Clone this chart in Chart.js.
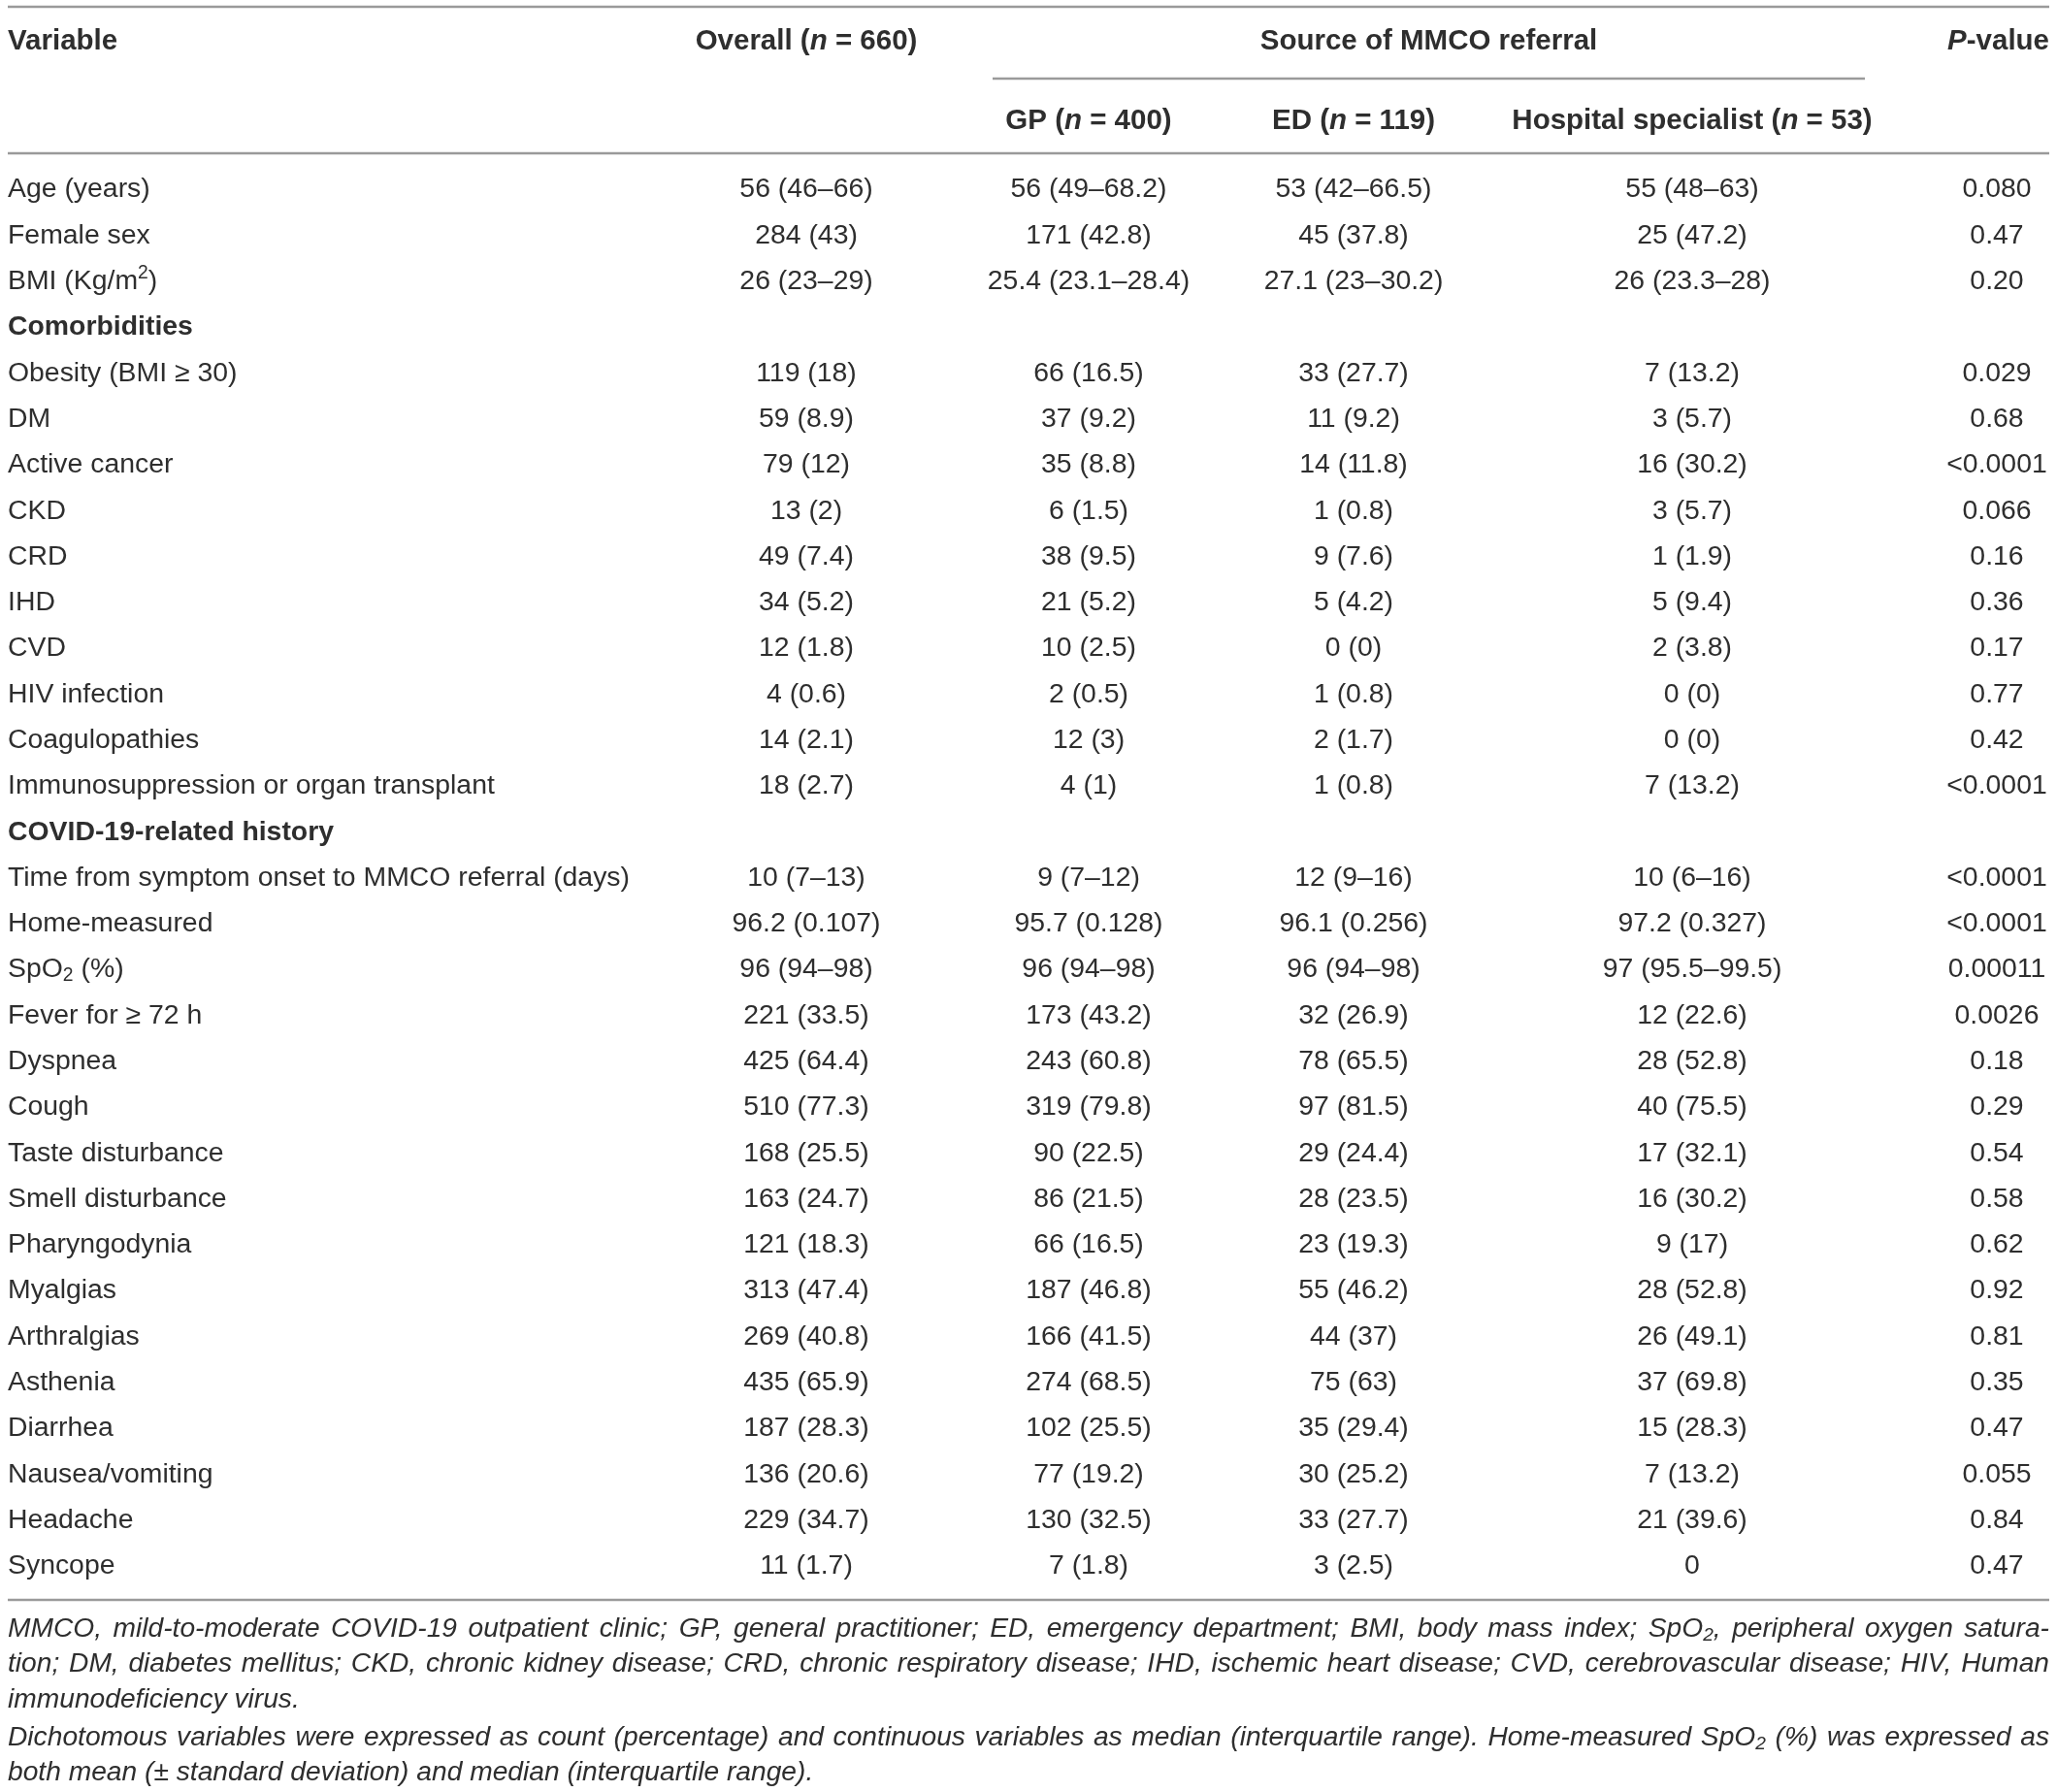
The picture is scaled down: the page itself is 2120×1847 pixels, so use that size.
<!DOCTYPE html>
<html>
<head>
<meta charset="utf-8">
<script src="https://cdn.jsdelivr.net/npm/chart.js@4.4.1/dist/chart.umd.min.js"></script>
<style>
  html, body { margin: 0; padding: 0; background: #fff; }
  #wrap { width: 2120px; height: 1847px; }
</style>
</head>
<body>
<div id="wrap"><canvas id="table" width="2120" height="1847"></canvas></div>
<script>
// === Data (markup: *x* italic, _{x} subscript, ^{x} superscript) ===
const columnHeads = ["Variable", "Overall (*n* = 660)", "GP (*n* = 400)", "ED (*n* = 119)", "Hospital specialist (*n* = 53)", "*P*-value"];
const groupHead = "Source of MMCO referral";
const sectionHeaders = ["Comorbidities", "COVID-19-related history"];

const rowLabels = [
  "Age (years)", "Female sex", "BMI (Kg/m^{2})",
  "Comorbidities",
  "Obesity (BMI ≥ 30)", "DM", "Active cancer", "CKD", "CRD", "IHD", "CVD",
  "HIV infection", "Coagulopathies", "Immunosuppression or organ transplant",
  "COVID-19-related history",
  "Time from symptom onset to MMCO referral (days)", "Home-measured", "SpO_{2} (%)",
  "Fever for ≥ 72 h", "Dyspnea", "Cough", "Taste disturbance", "Smell disturbance",
  "Pharyngodynia", "Myalgias", "Arthralgias", "Asthenia", "Diarrhea",
  "Nausea/vomiting", "Headache", "Syncope"
];

const overall = [
  "56 (46–66)", "284 (43)", "26 (23–29)", "",
  "119 (18)", "59 (8.9)", "79 (12)", "13 (2)", "49 (7.4)", "34 (5.2)", "12 (1.8)",
  "4 (0.6)", "14 (2.1)", "18 (2.7)", "",
  "10 (7–13)", "96.2 (0.107)", "96 (94–98)", "221 (33.5)", "425 (64.4)", "510 (77.3)",
  "168 (25.5)", "163 (24.7)", "121 (18.3)", "313 (47.4)", "269 (40.8)", "435 (65.9)",
  "187 (28.3)", "136 (20.6)", "229 (34.7)", "11 (1.7)"
];
const gp = [
  "56 (49–68.2)", "171 (42.8)", "25.4 (23.1–28.4)", "",
  "66 (16.5)", "37 (9.2)", "35 (8.8)", "6 (1.5)", "38 (9.5)", "21 (5.2)", "10 (2.5)",
  "2 (0.5)", "12 (3)", "4 (1)", "",
  "9 (7–12)", "95.7 (0.128)", "96 (94–98)", "173 (43.2)", "243 (60.8)", "319 (79.8)",
  "90 (22.5)", "86 (21.5)", "66 (16.5)", "187 (46.8)", "166 (41.5)", "274 (68.5)",
  "102 (25.5)", "77 (19.2)", "130 (32.5)", "7 (1.8)"
];
const ed = [
  "53 (42–66.5)", "45 (37.8)", "27.1 (23–30.2)", "",
  "33 (27.7)", "11 (9.2)", "14 (11.8)", "1 (0.8)", "9 (7.6)", "5 (4.2)", "0 (0)",
  "1 (0.8)", "2 (1.7)", "1 (0.8)", "",
  "12 (9–16)", "96.1 (0.256)", "96 (94–98)", "32 (26.9)", "78 (65.5)", "97 (81.5)",
  "29 (24.4)", "28 (23.5)", "23 (19.3)", "55 (46.2)", "44 (37)", "75 (63)",
  "35 (29.4)", "30 (25.2)", "33 (27.7)", "3 (2.5)"
];
const hospital = [
  "55 (48–63)", "25 (47.2)", "26 (23.3–28)", "",
  "7 (13.2)", "3 (5.7)", "16 (30.2)", "3 (5.7)", "1 (1.9)", "5 (9.4)", "2 (3.8)",
  "0 (0)", "0 (0)", "7 (13.2)", "",
  "10 (6–16)", "97.2 (0.327)", "97 (95.5–99.5)", "12 (22.6)", "28 (52.8)", "40 (75.5)",
  "17 (32.1)", "16 (30.2)", "9 (17)", "28 (52.8)", "26 (49.1)", "37 (69.8)",
  "15 (28.3)", "7 (13.2)", "21 (39.6)", "0"
];
const pValues = [
  "0.080", "0.47", "0.20", "",
  "0.029", "0.68", "<0.0001", "0.066", "0.16", "0.36", "0.17",
  "0.77", "0.42", "<0.0001", "",
  "<0.0001", "<0.0001", "0.00011", "0.0026", "0.18", "0.29",
  "0.54", "0.58", "0.62", "0.92", "0.81", "0.35",
  "0.47", "0.055", "0.84", "0.47"
];

const footnotes = [
  { text: "MMCO, mild-to-moderate COVID-19 outpatient clinic; GP, general practitioner; ED, emergency department; BMI, body mass index; SpO_{2}, peripheral oxygen satura-", justify: true },
  { text: "tion; DM, diabetes mellitus; CKD, chronic kidney disease; CRD, chronic respiratory disease; IHD, ischemic heart disease; CVD, cerebrovascular disease; HIV, Human", justify: true },
  { text: "immunodeficiency virus.", justify: false },
  { text: "Dichotomous variables were expressed as count (percentage) and continuous variables as median (interquartile range). Home-measured SpO_{2} (%) was expressed as", justify: true },
  { text: "both mean (± standard deviation) and median (interquartile range).", justify: false }
];

// === Layout (table units on the x scale) ===
const TABLE_LEFT = 8, TABLE_RIGHT = 2112;
const colAnchor = { label: 8, overall: 831, gp: 1122, ed: 1395, hospital: 1744, p: 2058 };
const groupSpan = [1023, 1922];
const FONT = '"Liberation Sans", Arial, Helvetica, sans-serif';
const TEXT = "#2e2e2e";
const RULE = "#9a9a9a";
const BODY = 28.4;
const HEAD = 29.5;
const NOTE = 28.2;

// === Rich text helpers ===
function parseMarkup(str) {
  const segs = [];
  let it = false, buf = "", i = 0;
  const flush = () => { if (buf) segs.push({ t: buf, it, mode: "" }); buf = ""; };
  while (i < str.length) {
    const c = str[i];
    if (c === "*") { flush(); it = !it; i++; continue; }
    if ((c === "_" || c === "^") && str[i + 1] === "{") {
      flush();
      const end = str.indexOf("}", i);
      segs.push({ t: str.slice(i + 2, end), it, mode: c === "_" ? "sub" : "sup" });
      i = end + 1;
      continue;
    }
    buf += c; i++;
  }
  flush();
  return segs;
}

function segFont(seg, size, weight, italic) {
  const s = seg.mode ? size * 0.68 : size;
  return `${(italic !== seg.it) ? "italic " : ""}${weight} ${s}px ${FONT}`;
}

function drawRich(ctx, markup, x, y, opt) {
  const size = opt.size || BODY, weight = opt.weight || "normal", italic = !!opt.italic;
  const segs = parseMarkup(markup);
  let total = 0, spaces = 0;
  segs.forEach(s => {
    ctx.font = segFont(s, size, weight, italic);
    s.w = ctx.measureText(s.t).width;
    total += s.w;
    if (!s.mode) spaces += (s.t.match(/ /g) || []).length;
  });
  let extra = 0;
  if (opt.justify && spaces > 0) extra = (opt.justify - total) / spaces;
  let cx = x;
  if (opt.align === "center") cx = x - total / 2;
  else if (opt.align === "right") cx = x - total;
  ctx.textAlign = "left";
  ctx.textBaseline = "middle";
  segs.forEach(s => {
    ctx.font = segFont(s, size, weight, italic);
    const dy = s.mode === "sub" ? size * 0.22 : s.mode === "sup" ? -size * 0.3 : 0;
    if (extra && !s.mode) {
      const parts = s.t.split(" ");
      const sp = ctx.measureText(" ").width;
      parts.forEach((p, k) => {
        ctx.fillText(p, cx, y + dy);
        cx += ctx.measureText(p).width;
        if (k < parts.length - 1) cx += sp + extra;
      });
    } else {
      ctx.fillText(s.t, cx, y + dy);
      cx += s.w;
    }
  });
}

// === Columns as datasets: one invisible point per cell, text drawn at the point ===
const columns = [
  { key: "label", cells: rowLabels, align: "left" },
  { key: "overall", cells: overall, align: "center" },
  { key: "gp", cells: gp, align: "center" },
  { key: "ed", cells: ed, align: "center" },
  { key: "hospital", cells: hospital, align: "center" },
  { key: "p", cells: pValues, align: "center" }
];

const tablePlugin = {
  id: "tableText",
  afterDatasetsDraw(chart) {
    const ctx = chart.ctx;
    const xs = chart.scales.x;
    const area = chart.chartArea;
    ctx.save();
    ctx.fillStyle = TEXT;

    // cells
    chart.data.datasets.forEach((ds, di) => {
      const meta = chart.getDatasetMeta(di);
      meta.data.forEach((pt, i) => {
        const txt = ds.cells[i];
        if (!txt) return;
        const isSection = ds.key === "label" && sectionHeaders.includes(txt);
        drawRich(ctx, txt, pt.x, pt.y, { align: ds.align, weight: isSection ? "bold" : "normal" });
      });
    });

    // header text
    const yH1 = 43, yH2 = 125;
    const head = { weight: "bold", size: HEAD };
    drawRich(ctx, columnHeads[0], xs.getPixelForValue(colAnchor.label), yH1, { ...head, align: "left" });
    drawRich(ctx, columnHeads[1], xs.getPixelForValue(colAnchor.overall), yH1, { ...head, align: "center" });
    drawRich(ctx, groupHead, xs.getPixelForValue((groupSpan[0] + groupSpan[1]) / 2), yH1, { ...head, align: "center" });
    drawRich(ctx, columnHeads[5], xs.getPixelForValue(TABLE_RIGHT), yH1, { ...head, align: "right" });
    drawRich(ctx, columnHeads[2], xs.getPixelForValue(colAnchor.gp), yH2, { ...head, align: "center" });
    drawRich(ctx, columnHeads[3], xs.getPixelForValue(colAnchor.ed), yH2, { ...head, align: "center" });
    drawRich(ctx, columnHeads[4], xs.getPixelForValue(colAnchor.hospital), yH2, { ...head, align: "center" });

    // rules
    ctx.strokeStyle = RULE;
    ctx.lineWidth = 2.5;
    const rule = (x0, x1, y) => {
      ctx.beginPath();
      ctx.moveTo(xs.getPixelForValue(x0), y);
      ctx.lineTo(xs.getPixelForValue(x1), y);
      ctx.stroke();
    };
    rule(TABLE_LEFT, TABLE_RIGHT, 7);
    rule(groupSpan[0], groupSpan[1], 81);
    rule(TABLE_LEFT, TABLE_RIGHT, 158);
    rule(TABLE_LEFT, TABLE_RIGHT, area.bottom + 11);

    // footnotes
    const footY = [1679, 1715, 1752, 1791, 1827];
    const x0 = xs.getPixelForValue(TABLE_LEFT), x1 = xs.getPixelForValue(TABLE_RIGHT);
    footnotes.forEach((f, i) => {
      drawRich(ctx, f.text, x0, footY[i], { align: "left", italic: true, size: NOTE, justify: f.justify ? x1 - x0 : 0 });
    });
    ctx.restore();
  }
};

new Chart(document.getElementById("table").getContext("2d"), {
  type: "scatter",
  data: {
    datasets: columns.map(c => ({
      key: c.key,
      cells: c.cells,
      align: c.align,
      data: rowLabels.map(r => ({ x: colAnchor[c.key], y: r })),
      pointRadius: 0,
      pointHoverRadius: 0
    }))
  },
  options: {
    responsive: false,
    animation: false,
    devicePixelRatio: 1,
    layout: { padding: { top: 172, bottom: 209, left: 0, right: 0 } },
    plugins: { legend: { display: false }, tooltip: { enabled: false } },
    events: [],
    scales: {
      x: { type: "linear", min: 0, max: 2120, display: false },
      y: { type: "category", labels: rowLabels, offset: true, display: false }
    }
  },
  plugins: [tablePlugin]
});
</script>
</body>
</html>
